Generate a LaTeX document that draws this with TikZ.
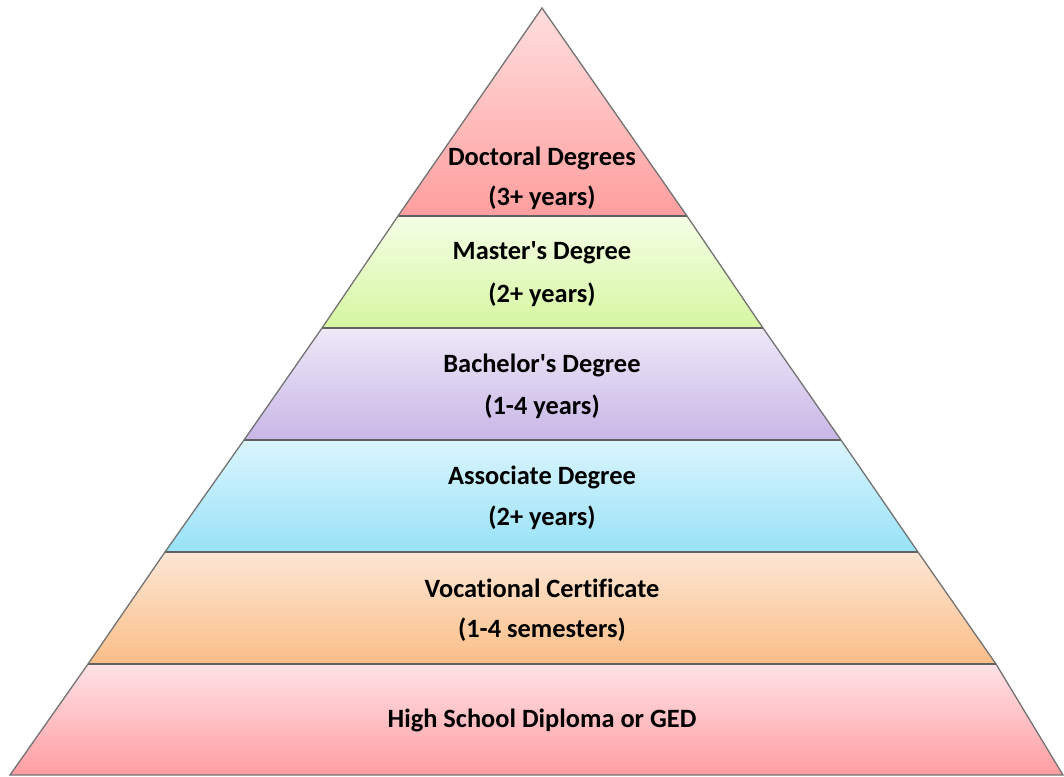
\documentclass[tikz,border=0pt]{standalone}
\usepackage{fontspec}
\setmainfont[Ligatures={NoCommon}]{Carlito}
\begin{document}
\begin{tikzpicture}[x=1pt,y=-1pt,
  band/.style={draw=none},
  sep/.style={draw=black!62,line width=1.8pt},
  edge/.style={draw=black!55,line width=1.3pt,line join=miter},
  lbl/.style={font=\bfseries\fontsize{26.4}{30}\selectfont,text=black,inner sep=0pt}]
\useasboundingbox (0,0) rectangle (1064,776);
% band corner coordinates
\coordinate (A) at (542,8);
\coordinate (L1) at (398,216); \coordinate (R1) at (687,216);
\coordinate (L2) at (322,328); \coordinate (R2) at (763,328);
\coordinate (L3) at (244,440); \coordinate (R3) at (841,440);
\coordinate (L4) at (165,552); \coordinate (R4) at (918,552);
\coordinate (L5) at (88,664);  \coordinate (R5) at (996,664);
\coordinate (L6) at (10,775);  \coordinate (R6) at (1063,775);
% bands
\shade[band,top color={rgb,255:red,255;green,222;blue,222},bottom color={rgb,255:red,255;green,158;blue,158}] (A) -- (R1) -- (L1) -- cycle;
\shade[band,top color={rgb,255:red,244;green,255;blue,230},bottom color={rgb,255:red,214;green,246;blue,160}] (L1) -- (R1) -- (R2) -- (L2) -- cycle;
\shade[band,top color={rgb,255:red,238;green,232;blue,248},bottom color={rgb,255:red,200;green,182;blue,230}] (L2) -- (R2) -- (R3) -- (L3) -- cycle;
\shade[band,top color={rgb,255:red,218;green,245;blue,253},bottom color={rgb,255:red,152;green,226;blue,248}] (L3) -- (R3) -- (R4) -- (L4) -- cycle;
\shade[band,top color={rgb,255:red,253;green,230;blue,212},bottom color={rgb,255:red,251;green,190;blue,136}] (L4) -- (R4) -- (R5) -- (L5) -- cycle;
\shade[band,top color={rgb,255:red,255;green,226;blue,230},bottom color={rgb,255:red,255;green,158;blue,162}] (L5) -- (R5) -- (R6) -- (L6) -- cycle;
% separators
\draw[sep] (L1) -- (R1);
\draw[sep] (L2) -- (R2);
\draw[sep] (L3) -- (R3);
\draw[sep] (L4) -- (R4);
\draw[sep] (L5) -- (R5);
% outline
\draw[edge] (A) -- (R1) -- (R2) -- (R3) -- (R4) -- (R5) -- (R6) -- (L6) -- (L5) -- (L4) -- (L3) -- (L2) -- (L1) -- cycle;
% labels
\node[lbl] (t1a) at (542,158) {Doctoral Degrees};
\node[lbl] (t1b) at (542,198) {(3+ years)};
\node[lbl] (t2a) at (542,253) {Master\textquotesingle s Degree};
\node[lbl] (t2b) at (542,295) {(2+ years)};
\node[lbl] (t3a) at (542,365) {Bachelor\textquotesingle s Degree};
\node[lbl] (t3b) at (542,407) {(1-4 years)};
\node[lbl] (t4a) at (542,477) {Associate Degree};
\node[lbl] (t4b) at (542,518) {(2+ years)};
\node[lbl] (t5a) at (542,588) {Vocational Certificate};
\node[lbl] (t5b) at (542,630) {(1-4 semesters)};
\node[lbl] (t6a) at (542,720) {High School Diploma or GED};
\end{tikzpicture}
\end{document}
